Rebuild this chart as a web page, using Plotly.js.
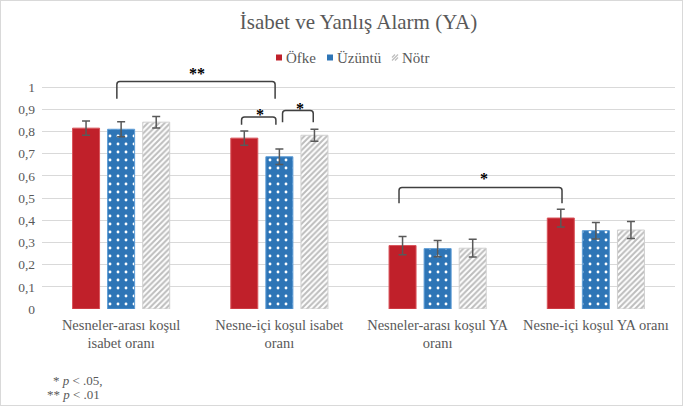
<!DOCTYPE html>
<html>
<head>
<meta charset="utf-8">
<script src="https://cdn.plot.ly/plotly-3.0.1.min.js"></script>
<style>
  html, body { margin: 0; padding: 0; background: #fff; }
  #chart { width: 683px; height: 406px; position: absolute; left: 0; top: 0; }
  #frame { position: absolute; left: 0; top: 0; width: 681px; height: 404px; border: 1px solid #D9D9D9; pointer-events: none; }
</style>
</head>
<body>
<div id="chart"></div>
<div id="frame"></div>
<script>
// ---- data ----
const categories = [
  "Nesneler-arası koşul<br>isabet oranı",
  "Nesne-içi koşul isabet<br>oranı",
  "Nesneler-arası koşul YA<br>oranı",
  "Nesne-içi koşul YA oranı"
];
const seriesNames = ["Öfke", "Üzüntü", "Nötr"];
const seriesColors = ["#C0202A", "#2E75B6", "#BDBDBD"];
const ofke = [0.815, 0.770, 0.286, 0.410];
const ofkeErr = [0.032, 0.032, 0.041, 0.040];
const uzuntu = [0.810, 0.686, 0.272, 0.353];
const uzuntuErr = [0.034, 0.035, 0.037, 0.037];
const notr = [0.842, 0.783, 0.274, 0.356];
const notrErr = [0.026, 0.027, 0.040, 0.038];
const yTickVals = [0, 0.1, 0.2, 0.3, 0.4, 0.5, 0.6, 0.7, 0.8, 0.9, 1];
const yTickText = ["0", "0,1", "0,2", "0,3", "0,4", "0,5", "0,6", "0,7", "0,8", "0,9", "1"];
// significance brackets: [x start (category index), x end, top value, leg bottom value, label, label x, label y]
const brackets = [
  [-0.027, 0.973, 1.025, 0.947, "**", 0.478, 1.06],
  [0.761, 0.978, 0.865, 0.830, "*", 0.877, 0.875],
  [1.020, 1.214, 0.894, 0.842, "*", 1.130, 0.905],
  [1.756, 2.786, 0.547, 0.477, "*", 2.290, 0.590]
];
const yMax = 1.05;

const serif = "Liberation Serif, Times New Roman, serif";
const grey = "#595959";
const W = 683, H = 406, ML = 42, MR = 8, MT = 76, MB = 97;
const PW = W - ML - MR, PH = H - MT - MB;
const nCat = categories.length;
const px2xp = (px) => (px - ML) / PW;
const py2yp = (py) => (H - MB - py) / PH;
const cat2xp = (c) => (c + 0.5) / nCat;
const val2yp = (v) => v / yMax;

const errStyle = (arr) => ({ type: "data", array: arr, visible: true, color: "#595959", thickness: 1.5, width: 4 });

const traces = [
  {
    type: "bar", name: seriesNames[0], x: categories, y: ofke,
    error_y: errStyle(ofkeErr),
    marker: { color: seriesColors[0], line: { color: "#D9545B", width: 1 } }
  },
  {
    type: "bar", name: seriesNames[1], x: categories, y: uzuntu,
    error_y: errStyle(uzuntuErr),
    marker: { color: seriesColors[1], line: { color: "#5B9BD5", width: 1 },
      pattern: { shape: ".", bgcolor: seriesColors[1], fgcolor: "#FFFFFF", size: 8, solidity: 0.1, fillmode: "replace" } }
  },
  {
    type: "bar", name: seriesNames[2], x: categories, y: notr,
    error_y: errStyle(notrErr),
    marker: { color: "#FFFFFF", line: { color: "#D0D0D0", width: 1 },
      pattern: { shape: "/", bgcolor: "#FFFFFF", fgcolor: seriesColors[2], size: 4, solidity: 0.5, fillmode: "replace" } }
  }
];

const shapes = [];
const annotations = [];
const bc = "#404040";
const rx = 3 / PW, ry = 3 / PH;
brackets.forEach(b => {
  const [c0, c1, top, bot, label, lx, ly] = b;
  const x0 = cat2xp(c0), x1 = cat2xp(c1), yt = val2yp(top), yb = val2yp(bot);
  const path = `M${x0},${yb} L${x0},${yt - ry} Q${x0},${yt} ${x0 + rx},${yt} L${x1 - rx},${yt} Q${x1},${yt} ${x1},${yt - ry} L${x1},${yb}`;
  shapes.push({ type: "path", xref: "paper", yref: "paper", path: path, line: { color: bc, width: 1.5 } });
  annotations.push({ xref: "paper", yref: "paper", x: cat2xp(lx), y: val2yp(ly), text: "<b>" + label + "</b>", showarrow: false,
    font: { family: serif, size: 16, color: "#000000" }, xanchor: "center", yanchor: "middle" });
});

// manual legend (small square symbols like the original)
const legendSym = [[276, 282], [327, 333], [392, 398]];
const legendText = [284, 335, 400];
const legendY = 57.5;
seriesNames.forEach((n, i) => {
  const [sx0, sx1] = legendSym[i];
  if (i < 2) {
    shapes.push({ type: "rect", xref: "paper", yref: "paper", x0: px2xp(sx0), x1: px2xp(sx1),
      y0: py2yp(legendY + 3), y1: py2yp(legendY - 3), fillcolor: seriesColors[i], line: { width: 0 } });
  } else {
    shapes.push({ type: "rect", xref: "paper", yref: "paper", x0: px2xp(sx0), x1: px2xp(sx1),
      y0: py2yp(legendY + 3), y1: py2yp(legendY - 3), fillcolor: "#FFFFFF", line: { width: 0 } });
    [[0, 3, 3, 0], [0, 6, 6, 0], [3, 6, 6, 3]].forEach(d => {
      shapes.push({ type: "line", xref: "paper", yref: "paper",
        x0: px2xp(sx0 + d[0]), y0: py2yp(legendY + 3 - d[1] + 3 - 3 + 0), x1: px2xp(sx0 + d[2]), y1: py2yp(legendY + 3 - d[1] + (d[1] - d[3]) - (d[1] - d[3]) + 0 - (d[2] - d[0]) + (d[2] - d[0])),
        line: { width: 0 } });
    });
    shapes.push({ type: "line", xref: "paper", yref: "paper", x0: px2xp(sx0), y0: py2yp(legendY + 3), x1: px2xp(sx1), y1: py2yp(legendY - 3),
      line: { color: seriesColors[2], width: 1.2 } });
    shapes.push({ type: "line", xref: "paper", yref: "paper", x0: px2xp(sx0), y0: py2yp(legendY), x1: px2xp(sx0 + 3), y1: py2yp(legendY - 3),
      line: { color: seriesColors[2], width: 1.2 } });
    shapes.push({ type: "line", xref: "paper", yref: "paper", x0: px2xp(sx0 + 3), y0: py2yp(legendY + 3), x1: px2xp(sx1), y1: py2yp(legendY),
      line: { color: seriesColors[2], width: 1.2 } });
  }
  annotations.push({ xref: "paper", yref: "paper", x: px2xp(legendText[i]), y: py2yp(legendY), xanchor: "left", yanchor: "middle",
    text: n, showarrow: false, font: { family: serif, size: 15, color: grey } });
});

annotations.push({ xref: "paper", yref: "paper", x: px2xp(51), y: py2yp(380), xanchor: "left", yanchor: "middle",
  text: "* <i>p</i> < .05,", showarrow: false, font: { family: serif, size: 13, color: grey } });
annotations.push({ xref: "paper", yref: "paper", x: px2xp(45), y: py2yp(394), xanchor: "left", yanchor: "middle",
  text: "** <i>p</i> < .01", showarrow: false, font: { family: serif, size: 13, color: grey } });

const layout = {
  width: W, height: H,
  margin: { l: ML, r: MR, t: MT, b: MB, pad: 0 },
  paper_bgcolor: "#FFFFFF", plot_bgcolor: "#FFFFFF",
  font: { family: serif, size: 14, color: grey },
  title: { text: "İsabet ve Yanlış Alarm (YA)", font: { family: serif, size: 21, color: grey },
    x: 0.5, xanchor: "center", xref: "paper", y: 1 - 22 / H, yanchor: "middle" },
  barmode: "group", bargap: 0.335, bargroupgap: 0.23,
  showlegend: false,
  xaxis: { type: "category", showgrid: false, showline: false, ticks: "", zeroline: false, ticklabelstandoff: 5,
    tickfont: { family: serif, size: 14.5, color: grey }, fixedrange: true },
  yaxis: { range: [0, yMax], tickvals: yTickVals, ticktext: yTickText, showgrid: true, gridcolor: "#D9D9D9", gridwidth: 1,
    zeroline: false, showline: false, ticks: "", ticklen: 0, ticklabelstandoff: 6,
    tickfont: { family: serif, size: 13.5, color: grey }, fixedrange: true },
  shapes: shapes,
  annotations: annotations
};

Plotly.newPlot("chart", traces, layout, { displayModeBar: false, staticPlot: true });
</script>
</body>
</html>
